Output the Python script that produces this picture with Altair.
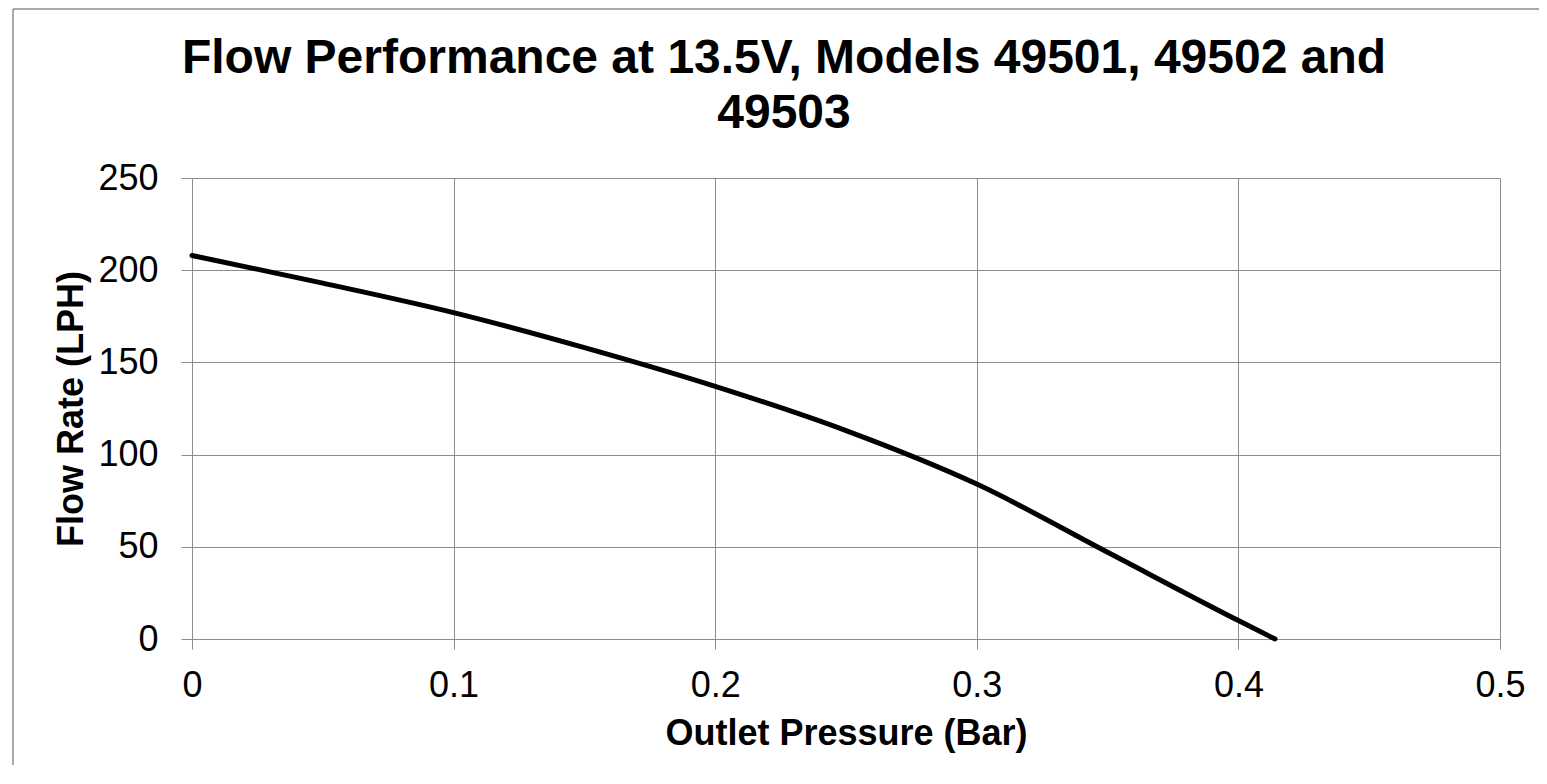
import altair as alt
import pandas as pd

# Data
pressure = [0.0, 0.05, 0.1, 0.15, 0.2, 0.25, 0.3, 0.35, 0.4, 0.414]
flow = [208, 193, 177, 158, 137, 113, 84, 47, 10, 0]
x_ticks = [0, 0.1, 0.2, 0.3, 0.4, 0.5]
y_ticks = [0, 50, 100, 150, 200, 250]
title_line1 = "Flow Performance at 13.5V, Models 49501, 49502 and"
title_line2 = "49503"

df = pd.DataFrame({"pressure": pressure, "flow": flow})
one_df = pd.DataFrame({"k": [0]})

GRID = "#8c8c8c"
FONT = "Liberation Sans"
W, H = 1308, 461

line = alt.Chart(df).mark_line(
    color="black", strokeWidth=5, interpolate="monotone", strokeCap="round"
).encode(
    x=alt.X(
        "pressure:Q",
        scale=alt.Scale(domain=[0, 0.5], nice=False, zero=False),
        axis=alt.Axis(values=x_ticks, format="~g", title="Outlet Pressure (Bar)",
                      labelPadding=19, titlePadding=13, tickSize=10, labelFlush=False),
    ),
    y=alt.Y(
        "flow:Q",
        scale=alt.Scale(domain=[0, 250], nice=False),
        axis=alt.Axis(values=y_ticks, title="Flow Rate (LPH)",
                      labelPadding=23, titlePadding=7, tickSize=11, labelFlush=False),
    ),
)

frame_top = alt.Chart(one_df).mark_rule(color=GRID, strokeWidth=1.5).encode(
    x=alt.value(-179), x2=alt.value(1400), y=alt.value(-169)
)
frame_left = alt.Chart(one_df).mark_rule(color=GRID, strokeWidth=1.5).encode(
    x=alt.value(-179), y=alt.value(-169), y2=alt.value(700)
)

title1 = alt.Chart(one_df).mark_text(
    font=FONT, fontSize=48, fontWeight="bold", color="black",
    align="center", baseline="alphabetic",
).encode(x=alt.value(592), y=alt.value(-105), text=alt.value(title_line1))
title2 = alt.Chart(one_df).mark_text(
    font=FONT, fontSize=48, fontWeight="bold", color="black",
    align="center", baseline="alphabetic",
).encode(x=alt.value(592), y=alt.value(-50), text=alt.value(title_line2))

chart = alt.layer(frame_top, frame_left, title1, title2, line).properties(
    width=W,
    height=H,
    background="white",
    autosize=alt.AutoSizeParams(type="none"),
    padding={"left": 184, "top": 170, "right": 39, "bottom": 126},
).configure_view(
    stroke=None
).configure_axis(
    labelFont=FONT, labelFontSize=36, labelColor="black",
    titleFont=FONT, titleFontSize=36, titleFontWeight="bold", titleColor="black",
    gridColor=GRID, gridWidth=1, domainColor=GRID, domainWidth=1,
    tickColor=GRID, tickWidth=1,
)

chart.save("out.html", embed_options={"renderer": "svg", "actions": False})
